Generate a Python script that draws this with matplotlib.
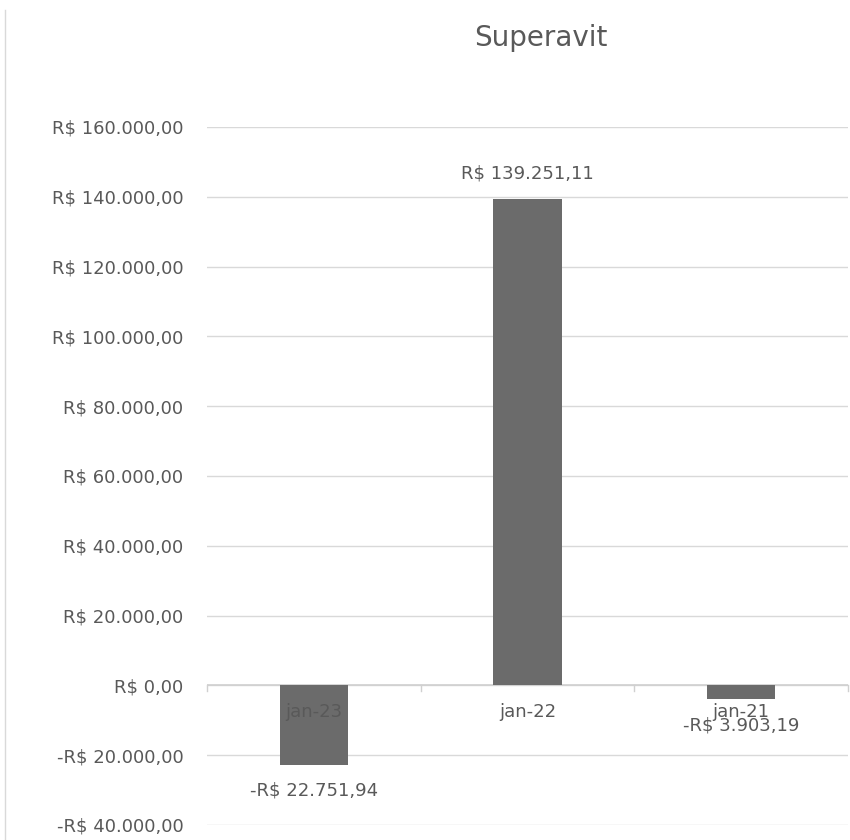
import numpy as np
import matplotlib.pyplot as plt
from matplotlib.lines import Line2D

categories = ['jan-23', 'jan-22', 'jan-21']
superavit = [-22751.94, 139251.11, -3903.19]
value_labels = ['-R$ 22.751,94', 'R$ 139.251,11', '-R$ 3.903,19']
y_ticks = [-40000, -20000, 0, 20000, 40000, 60000, 80000, 100000, 120000, 140000, 160000]


def brl(v):
    s = f'{abs(v):,.2f}'.replace(',', 'X').replace('.', ',').replace('X', '.')
    return ('-R$ ' if v < 0 else 'R$ ') + s


plt.rcParams['font.family'] = ['DejaVu Sans']
txt = '#595959'
fs = 13

fig = plt.figure(figsize=(8.5, 8.4), dpi=100)
ax = fig.add_axes([207 / 850, 1 - 825 / 840, 641 / 850, 698 / 840])

x = np.arange(len(categories))
ax.bar(x, superavit, width=0.32, color='#6b6b6b', zorder=3)

ax.set_xlim(-0.5, len(categories) - 0.5)
ax.set_ylim(-40000, 160000)
ax.set_yticks(y_ticks)
ax.set_yticklabels([brl(v) for v in y_ticks], fontsize=fs, color=txt)
ax.tick_params(axis='y', length=0, pad=17)
ax.set_xticks([])
ax.grid(axis='y', color='#d9d9d9', linewidth=1, zorder=0)
for s in ax.spines.values():
    s.set_visible(False)

# eixo zero com marcas entre categorias
ax.axhline(0, color='#d0d0d0', linewidth=1.2, zorder=2)
for b in np.arange(-0.5, len(categories), 1.0):
    ax.plot([b, b], [0, -1500], color='#d0d0d0', linewidth=1, zorder=2, clip_on=False)

# rótulos das categorias logo abaixo da linha zero
for i, c in enumerate(categories):
    ax.annotate(c, (i, 0), xytext=(0, -27), textcoords='offset pixels',
                ha='center', va='center', fontsize=fs, color=txt, zorder=4)

# rótulos dos valores
for i, (v, lab) in enumerate(zip(superavit, value_labels)):
    dy = 26 if v >= 0 else -26
    ax.annotate(lab, (i, v), xytext=(0, dy), textcoords='offset pixels',
                ha='center', va='center', fontsize=fs, color=txt, zorder=4)

fig.text(541 / 850, 1 - 38 / 840, 'Superavit', ha='center', va='center',
         fontsize=20, color=txt)

fig.add_artist(Line2D([5 / 850, 5 / 850], [0, 1 - 10 / 840], transform=fig.transFigure,
                      color='#d9d9d9', linewidth=1))

fig.savefig('out.png', dpi=100, facecolor='white')
